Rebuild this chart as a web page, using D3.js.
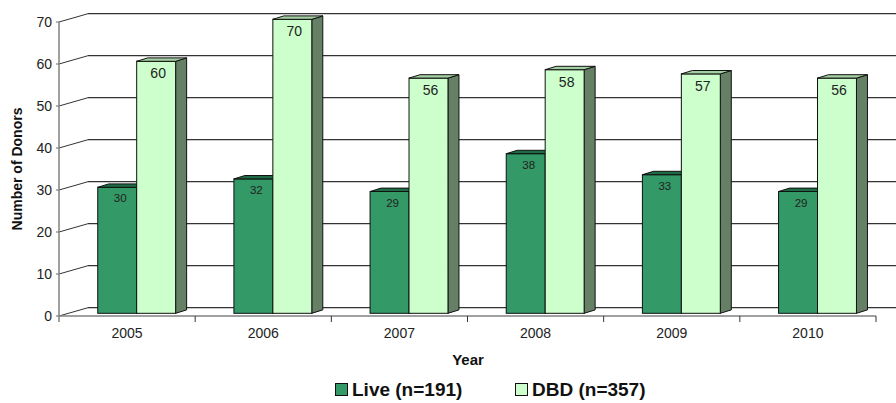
<!DOCTYPE html>
<html>
<head>
<meta charset="utf-8">
<script src="https://cdn.jsdelivr.net/npm/d3@7"></script>
<style>
html,body{margin:0;padding:0;background:#fff;}
svg{display:block;font-family:"Liberation Sans",Arial,sans-serif;}
</style>
</head>
<body>
<svg id="chart" width="896" height="403"></svg>
<script>
const years = ["2005","2006","2007","2008","2009","2010"];
const seriesNames = ["Live (n=191)","DBD (n=357)"];
const liveValues = [30,32,29,38,33,29];
const dbdValues = [60,70,56,58,57,56];
const yTicks = [0,10,20,30,40,50,60,70];

const svg = d3.select("#chart");
const W = 896;
// layout
const left = 59, right = 876, yBottom = 316, yTop = 22;
const wallDx = 29, wallDy = -8.3;
const barOff = [9.6, -2.7];   // front face of bars within depth
const barDepth = [11, -3.4];  // bar depth
const colors = {
  live: {front:"#339966", top:"#1f6b45", side:"#1f5e3e"},
  dbd: {front:"#CCFFCC", top:"#a3cfa3", side:"#668066"}
};

const y = d3.scaleLinear().domain([0,70]).range([yBottom, yTop]);
const x = d3.scaleBand().domain(years).range([left, right]);
const bw = x.bandwidth();
const x1 = d3.scaleBand().domain(seriesNames).range([bw*0.214, bw*0.786]);

// back wall gridlines
const grid = svg.append("g");
yTicks.forEach(v => {
  const yf = y(v);
  grid.append("line").attr("x1", left).attr("y1", yf).attr("x2", left+wallDx).attr("y2", yf+wallDy)
    .attr("stroke","#333").attr("stroke-width",1);
  grid.append("line").attr("x1", left+wallDx).attr("y1", yf+wallDy).attr("x2", W).attr("y2", yf+wallDy)
    .attr("stroke","#333").attr("stroke-width",1.2);
});

// axes (front)
const axG = svg.append("g");
axG.append("line").attr("x1", left).attr("y1", yTop).attr("x2", left).attr("y2", yBottom+6)
  .attr("stroke","#808080").attr("stroke-width",1.5);
axG.append("line").attr("x1", left).attr("y1", yBottom).attr("x2", right).attr("y2", yBottom)
  .attr("stroke","#808080").attr("stroke-width",1.5);
yTicks.forEach(v => {
  axG.append("line").attr("x1", left-3).attr("y1", y(v)).attr("x2", left).attr("y2", y(v))
    .attr("stroke","#808080").attr("stroke-width",1.2);
  axG.append("text").attr("x", 52).attr("y", y(v)).attr("dy","0.36em")
    .attr("text-anchor","end").attr("font-size",14).attr("fill","#222").text(v);
});
years.forEach((yr,i) => {
  const xt = x(yr) + bw;
  axG.append("line").attr("x1", xt).attr("y1", yBottom).attr("x2", xt).attr("y2", yBottom+6)
    .attr("stroke","#333").attr("stroke-width",1);
  axG.append("text").attr("x", x(yr)+bw/2).attr("y", 338).attr("text-anchor","middle")
    .attr("font-size",14).attr("fill","#222").text(yr);
});

// bars
const bars = svg.append("g");
function drawBar(x0, w, v, c) {
  const fx = x0 + barOff[0];
  const fyB = y(0) + barOff[1];
  const fyT = y(v) + barOff[1];
  const dx = barDepth[0], dy = barDepth[1];
  bars.append("path").attr("d", `M${fx+w},${fyT} L${fx+w+dx},${fyT+dy} L${fx+w+dx},${fyB+dy} L${fx+w},${fyB} Z`)
    .attr("fill", c.side).attr("stroke","#111").attr("stroke-width",1).attr("stroke-linejoin","round");
  bars.append("rect").attr("x", fx).attr("y", fyT).attr("width", w).attr("height", fyB-fyT)
    .attr("fill", c.front).attr("stroke","#111").attr("stroke-width",1);
  bars.append("path").attr("d", `M${fx},${fyT} L${fx+dx},${fyT+dy} L${fx+w+dx},${fyT+dy} L${fx+w},${fyT} Z`)
    .attr("fill", c.top).attr("stroke","#111").attr("stroke-width",1).attr("stroke-linejoin","round");
  return {cx: fx + w/2, top: fyT};
}
years.forEach((yr,i) => {
  const w = x1.bandwidth();
  const a = drawBar(x(yr)+x1(seriesNames[0]), w, liveValues[i], colors.live);
  const b = drawBar(x(yr)+x1(seriesNames[1]), w, dbdValues[i], colors.dbd);
  bars.append("text").attr("x", a.cx+3).attr("y", a.top+11).attr("dy","0.36em")
    .attr("text-anchor","middle").attr("font-size",11.5).attr("fill","#222").text(liveValues[i]);
  bars.append("text").attr("x", b.cx+2).attr("y", b.top+12).attr("dy","0.36em")
    .attr("text-anchor","middle").attr("font-size",14).attr("fill","#222").text(dbdValues[i]);
});

// titles
svg.append("text").attr("transform","translate(22,169) rotate(-90)").attr("text-anchor","middle")
  .attr("font-size",14).attr("font-weight","bold").attr("fill","#111").text("Number of Donors");
svg.append("text").attr("x", 468).attr("y", 364.5).attr("text-anchor","middle")
  .attr("font-size",15).attr("font-weight","bold").attr("fill","#111").text("Year");

// legend
const leg = svg.append("g");
const legItems = [{x:335, c:colors.live.front},{x:515, c:colors.dbd.front}];
legItems.forEach((it,i) => {
  leg.append("rect").attr("x", it.x+0.5).attr("y", 383.5).attr("width",12).attr("height",12)
    .attr("fill", it.c).attr("stroke","#111").attr("stroke-width",1);
  leg.append("text").attr("x", it.x+17).attr("y", 396).attr("font-size",19)
    .attr("font-weight","bold").attr("fill","#111").text(seriesNames[i]);
});
</script>
</body>
</html>
